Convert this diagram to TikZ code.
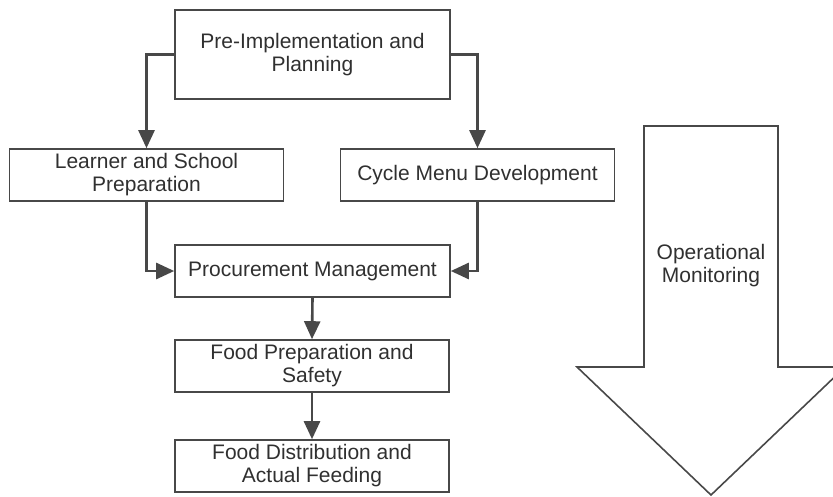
\documentclass[tikz,border=0pt]{standalone}
\usepackage{fontspec}
\setmainfont{Liberation Sans}
\usetikzlibrary{arrows.meta}
\definecolor{ln}{HTML}{484848}
\definecolor{tx}{HTML}{303030}
\begin{document}
\begin{tikzpicture}[x=1pt,y=-1pt,
  box/.style={draw=ln,line width=1.6pt,rectangle,minimum width=274pt,minimum height=52pt,
    align=center,text=tx,font=\fontsize{21}{23}\selectfont,inner sep=0pt},
  conn/.style={draw=ln,line width=2.6pt,-{Triangle[length=18pt,width=16pt]}}]
\useasboundingbox (0,0) rectangle (833,496);
\node[box,minimum height=89pt,minimum width=275pt] (top) at (312.5,54.5) {Pre-Implementation and\\Planning};
\node[box] (learn) at (146.5,175) {Learner and School\\Preparation};
\node[box] (cycle) at (477.5,175) {Cycle Menu Development};
\node[box,minimum width=275pt] (proc) at (312.5,271) {Procurement Management};
\node[box] (prep) at (312,366) {Food Preparation and\\Safety};
\node[box] (dist) at (312,466) {Food Distribution and\\Actual Feeding};
\draw[conn] (top.west) -| (learn.north);
\draw[conn] (top.east) -| (cycle.north);
\draw[conn] (learn.south) |- (proc.west);
\draw[conn] (cycle.south) |- (proc.east);
\draw[conn] (proc.south) -- (prep.north);
\draw[conn] (prep.south) -- (dist.north);
\draw[ln,line width=1.6pt,line join=miter] (644,126) -- (778,126) -- (778,367) -- (845,367) -- (711,495) -- (577,367) -- (644,367) -- cycle;
\node[text=tx,font=\fontsize{21}{23}\selectfont,align=center] (mon) at (711,266) {Operational\\Monitoring};
\end{tikzpicture}
\end{document}
